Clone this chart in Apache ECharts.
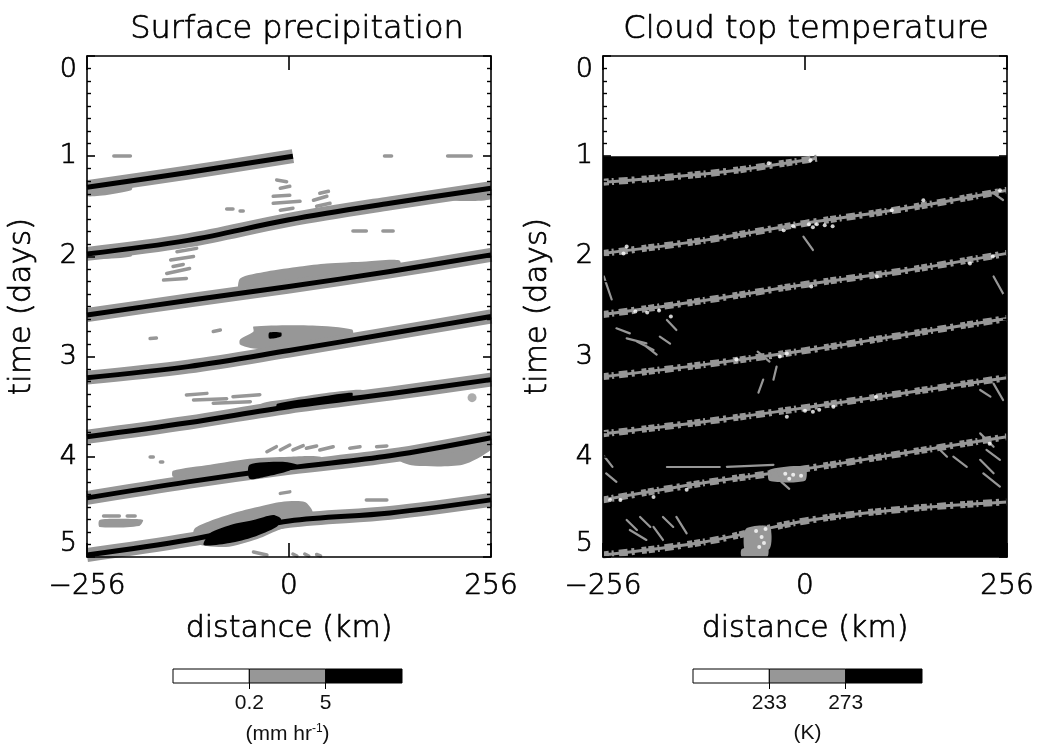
<!DOCTYPE html>
<html><head><meta charset="utf-8">
<script src="https://cdn.jsdelivr.net/npm/echarts@6/dist/echarts.min.js"></script>
<style>html,body{margin:0;padding:0;background:#fff}#c{width:1038px;height:748px}</style>
</head><body><div id="c"></div>
<script>
// ---------------- data ----------------
const titles = ['Surface precipitation', 'Cloud top temperature'];
const distanceRange = [-256, 256];
const timeRange = [0, 5];

// precipitation: tracks of the propagating rain lines [distance km, time days]
const precipTracks = [
  [[-256,1.31],[-130,1.165],[5,1.0]],
  [[-256,1.975],[-128,1.84],[0,1.635],[128,1.47],[256,1.32]],
  [[-256,2.585],[-128,2.44],[0,2.30],[128,2.15],[256,1.985]],
  [[-256,3.21],[-128,3.10],[0,2.94],[128,2.77],[256,2.60]],
  [[-256,3.80],[-128,3.66],[0,3.50],[128,3.37],[256,3.23]],
  [[-256,4.41],[-128,4.25],[0,4.11],[128,3.99],[256,3.81]],
  [[-256,4.98],[-128,4.83],[0,4.64],[128,4.56],[256,4.43]]
];
const precipGrayPatches = [
  [[-62,2.22],[-28,2.15],[14,2.10],[48,2.07],[98,2.05],[140,2.04],[140,2.14],[48,2.25],[-62,2.37]],
  [[-62,2.83],[-45,2.75],[-45,2.70],[30,2.69],[80,2.73],[80,2.80],[0,2.93],[-45,2.92],[-62,2.88]],
  [[-35,3.47],[0,3.42],[40,3.37],[90,3.33],[110,3.37],[60,3.45],[0,3.55],[-35,3.55]],
  [[-147,4.14],[-100,4.08],[-50,4.02],[0,4.0],[40,4.0],[40,4.08],[0,4.16],[-50,4.22],[-100,4.25],[-147,4.20]],
  [[140,3.95],[200,3.92],[256,3.84],[256,3.93],[220,4.08],[160,4.09],[140,4.04]],
  [[-240,4.63],[-200,4.62],[-185,4.63],[-190,4.69],[-240,4.70]],
  [[-120,4.72],[-100,4.64],[-70,4.56],[-40,4.50],[-10,4.45],[20,4.45],[30,4.55],[20,4.66],[-10,4.72],[-40,4.82],[-80,4.90],[-120,4.86]],
  [[-256,1.30],[-200,1.26],[-200,1.34],[-256,1.40]],
  [[180,1.38],[256,1.31],[256,1.43],[200,1.44]],
  [[-256,1.96],[-200,1.92],[-200,2.0],[-256,2.02]]
];
const precipBlackPatches = [
  [[-50,4.08],[-10,4.05],[10,4.08],[0,4.14],[-30,4.2],[-50,4.22]],
  [[-100,4.76],[-70,4.67],[-45,4.63],[-20,4.58],[-10,4.62],[-16,4.70],[-45,4.80],[-75,4.86],[-108,4.88]],
  [[-15,3.47],[40,3.40],[80,3.36],[80,3.40],[40,3.45],[-15,3.52]],
  [[-25,2.76],[-10,2.76],[-10,2.80],[-25,2.82]]
];
const precipGrayDashes = [
  [[-15.6,1.238],[-3,1.255]], [[-11,1.32],[1,1.30]], [[-20,1.40],[1,1.39]], [[-20,1.47],[14,1.45]],
  [[-11,1.54],[5,1.52]], [[31,1.44],[48,1.40]], [[35,1.50],[52,1.47]], [[39,1.37],[50,1.35]],
  [[-79,1.52],[-71,1.52]], [[-62,1.54],[-58,1.54]], [[81,1.74],[98,1.74]], [[119,1.74],[132,1.74]],
  [[-147,1.886],[-130,1.87]], [[-142,1.953],[-117,1.92]], [[-150,2.036],[-121,2.0]],
  [[-155,2.17],[-126,2.12]], [[-159,2.236],[-130,2.22]], [[-147,2.10],[-134,2.08]],
  [[-96,2.75],[-87,2.735]], [[-176,2.82],[-168,2.815]],
  [[-130,3.383],[-104,3.367]], [[-121,3.433],[-79,3.42]], [[-96,3.466],[-49,3.45]], [[-71,3.40],[-37,3.38]],
  [[-28,3.949],[-16,3.899]], [[-11,3.932],[1,3.882]], [[5,3.932],[18,3.889]], [[22,3.915],[35,3.892]],
  [[39,3.932],[56,3.899]], [[77,3.915],[90,3.899]], [[111,3.899],[124,3.892]],
  [[-176,4.0],[-172,4.0]], [[-163,4.05],[-160,4.05]], [[-11,4.365],[1,4.35]],
  [[-235,4.59],[-215,4.59]], [[-205,4.585],[-195,4.585]], [[98,4.43],[124,4.43]],
  [[-45,4.95],[-28,4.98]], [[5,4.97],[10,4.99]], [[20,4.97],[25,4.99]], [[35,4.975],[40,4.99]],
  [[-222,1.0],[-201,1.0]], [[121,1.0],[130,1.0]], [[201,1.0],[231,1.0]]
];
const precipGrayDots = [[232,3.41]];

// cloud top temperature
const cloudStart = 1.0;   // cloud data begins at day 1
const cloudTracks = [
  [[-256,1.26],[-108,1.16],[15,1.02]],
  [[-256,1.97],[-128,1.84],[0,1.67],[128,1.52],[256,1.34]],
  [[-256,2.58],[-128,2.44],[0,2.28],[128,2.14],[256,1.97]],
  [[-256,3.20],[-128,3.08],[0,2.94],[128,2.78],[256,2.62]],
  [[-256,3.77],[-128,3.65],[0,3.51],[128,3.36],[256,3.21]],
  [[-256,4.43],[-128,4.26],[0,4.12],[128,3.96],[256,3.80]],
  [[-256,4.98],[-128,4.85],[0,4.64],[128,4.52],[256,4.45]]
];
const cloudGrayDashes = [
  [[-239,2.718],[-222,2.768]], [[-226,2.818],[-201,2.868]], [[-213,2.85],[-192,2.934]], [[-201,2.90],[-188,2.98]],
  [[-184,2.80],[-171,2.87]], [[-175,2.635],[-163,2.735]],
  [[-36,3.10],[-40,3.23]], [[-53,3.23],[-59,3.36]],
  [[-254,3.999],[-244,4.1]], [[-252,4.165],[-239,4.25]],
  [[-175,4.10],[-108,4.10]], [[-99,4.10],[-40,4.08]],
  [[-226,4.63],[-213,4.73]], [[-222,4.73],[-201,4.83]], [[-209,4.60],[-196,4.70]], [[-192,4.70],[-180,4.83]],
  [[-180,4.60],[-167,4.70]], [[-163,4.60],[-150,4.764]],
  [[222,3.766],[239,3.90]], [[230,3.932],[247,4.03]], [[222,4.03],[239,4.165]], [[226,4.165],[247,4.298]],
  [[188,3.999],[205,4.10]], [[167,3.90],[180,3.999]], [[239,3.27],[251,3.433]], [[222,3.333],[235,3.40]],
  [[239,1.37],[251,1.437]], [[239,2.2],[251,2.37]], [[-2,1.803],[10,1.936]], [[-255,2.2],[-245,2.43]],
  [[-30,4.25],[-20,4.32]], [[-60,2.95],[-45,3.05]]
];
const cloudGrayPatches = [
  [[-80,4.92],[-48,4.88],[-48,5.0],[-80,5.0]],
  [[-45,4.13],[0,4.10],[0,4.24],[-45,4.24]],
  [[-75,4.72],[-45,4.70],[-45,4.92],[-75,4.95]]
];
const cloudWhiteSpecks = [
  [5,1.68],[15,1.68],[25,1.69],[35,1.70],[10,1.71],[-27,1.74],[-15,1.70],[110,1.54],[150,1.44],[247,1.34],
  [-230,1.97],[-226,1.90],[7,1.04],[-46,1.07],[91,2.2],[209,2.07],[238,2.0],[8,2.3],
  [-215,2.55],[-200,2.56],[-185,2.54],[-170,2.6],[-23,2.97],[-32,3.0],[-87,3.03],
  [0,3.54],[10,3.55],[18,3.53],[-23,3.6],[36,3.5],[90,3.4],
  [-25,4.17],[-15,4.18],[-5,4.19],[-20,4.22],[-192,4.4],[-234,4.43],[-247,4.43],[-150,4.33],
  [-62,4.74],[-55,4.8],[-52,4.86],[-58,4.9],[-50,4.72],[234,3.87]
];

// colour bars
const precipBarLabels = ['0.2', '5'];
const cloudBarLabels = ['233', '273'];
const barCells = [[0,1,0],[1,2,1],[2,3,2]];
const GRAY = '#979797';
const barColors = ['#ffffff', GRAY, '#000000'];

// ---------------- chart ----------------
const FONT = 'DejaVu Sans';
const chart = echarts.init(document.getElementById('c'), null, {renderer:'canvas'});

function trackSeries(tracks, color, width, xi, yi, z, type, offset) {
  return tracks.map(tr => ({
    type:'line', xAxisIndex:xi, yAxisIndex:yi, data:tr, showSymbol:false, symbol:'none', z, smooth:0.35,
    lineStyle:{color, width, type:type || 'solid', dashOffset:offset || 0, cap:'butt', join:'round'},
    silent:true, animation:false, clip:true
  }));
}
function polySeries(polys, color, xi, yi, z) {
  return {type:'custom', xAxisIndex:xi, yAxisIndex:yi, z, clip:true, silent:true, animation:false,
    data: polys.map(p => p[0]),
    renderItem:(params, api) => ({type:'polygon',
      shape:{points: polys[params.dataIndex].map(pt => api.coord(pt)), smooth:0.25},
      style:{fill:color}})
  };
}
function dashSeries(segs, color, width, xi, yi, z) {
  return {type:'lines', coordinateSystem:'cartesian2d', xAxisIndex:xi, yAxisIndex:yi, z, silent:true,
    animation:false, clip:true, data: segs.map(s => ({coords:s})),
    lineStyle:{color, width, opacity:1, cap:'round', curveness:0}};
}
function dotSeries(pts, color, size, xi, yi, z) {
  return {type:'scatter', xAxisIndex:xi, yAxisIndex:yi, z, data:pts, symbol:'circle', symbolSize:size,
    itemStyle:{color}, silent:true, animation:false, clip:true};
}
function barSeries(xi, yi) {
  return {type:'custom', xAxisIndex:xi, yAxisIndex:yi, silent:true, animation:false, data:barCells,
    renderItem:(params, api) => {
      const a = api.coord([api.value(0), 1]), b = api.coord([api.value(1), 0]);
      return {type:'rect', shape:{x:a[0], y:a[1], width:b[0]-a[0], height:b[1]-a[1]},
        style:{fill:barColors[api.value(2)], stroke:'#000', lineWidth:1}};
    }};
}

const axisLineStyle = {color:'#000', width:1.6};
const bigText = {fontFamily:FONT, fontSize:30, fontWeight:300, color:'#000',
  textBorderColor:'#000', textBorderWidth:0.7};
const minus = v => v < 0 ? '\u2212' + Math.abs(v) : String(v);

function xAxes(gi) {
  return [
    {gridIndex:gi, type:'value', position:'bottom', min:distanceRange[0], max:distanceRange[1], interval:256,
     name:'distance (km)', nameLocation:'middle', nameGap:57, nameTextStyle:bigText,
     axisLine:{show:true, onZero:false, lineStyle:axisLineStyle},
     axisTick:{show:true, inside:true, length:14, lineStyle:axisLineStyle},
     axisLabel:{show:true, margin:16, formatter:minus, ...bigText, fontSize:28},
     splitLine:{show:false}, z:10},
    {gridIndex:gi, type:'value', position:'top', min:distanceRange[0], max:distanceRange[1], interval:256,
     axisLine:{show:true, onZero:false, lineStyle:axisLineStyle},
     axisTick:{show:true, inside:true, length:14, lineStyle:axisLineStyle},
     axisLabel:{show:false}, splitLine:{show:false}, z:10}
  ];
}
function yAxes(gi) {
  return [
    {gridIndex:gi, type:'value', position:'left', inverse:true, min:timeRange[0], max:timeRange[1], interval:1,
     name:'time (days)', nameLocation:'middle', nameGap:50, nameRotate:90, nameTextStyle:{...bigText, fontSize:31},
     axisLine:{show:true, onZero:false, lineStyle:axisLineStyle},
     axisTick:{show:true, inside:true, length:8, lineStyle:axisLineStyle},
     minorTick:{show:true, splitNumber:8, length:4, lineStyle:{color:'#000', width:1.4}},
     axisLabel:{show:true, margin:10, ...bigText, fontSize:27,
       verticalAlignMinLabel:'top', verticalAlignMaxLabel:'bottom'},
     splitLine:{show:false}, minorSplitLine:{show:false}, z:10},
    {gridIndex:gi, type:'value', position:'right', inverse:true, min:timeRange[0], max:timeRange[1], interval:1,
     axisLine:{show:true, onZero:false, lineStyle:axisLineStyle},
     axisTick:{show:true, inside:true, length:8, lineStyle:axisLineStyle},
     minorTick:{show:true, splitNumber:8, length:4, lineStyle:{color:'#000', width:1.4}},
     axisLabel:{show:false}, splitLine:{show:false}, minorSplitLine:{show:false}, z:10}
  ];
}
const barText = {fontFamily:'Liberation Sans', fontSize:21, color:'#111'};
function barXAxis(gi, labels, unitRich) {
  return {gridIndex:gi, type:'value', min:0, max:3, interval:1,
    axisLine:{show:false},
    axisTick:{show:true, customValues:[1,2], length:6, lineStyle:{color:'#000', width:1}},
    axisLabel:{show:true, customValues:[1,2], margin:10, formatter:v => labels[v-1] || '', ...barText},
    splitLine:{show:false},
    name:unitRich, nameLocation:'middle', nameGap:40,
    nameTextStyle:{...barText, rich:{a:{...barText}, s:{fontFamily:'Liberation Sans', fontSize:12, color:'#111', verticalAlign:'top', padding:[0,0,10,0]}}}
  };
}
function barYAxis(gi) {
  return {gridIndex:gi, type:'value', min:0, max:1, show:false};
}

const series = [
  // precipitation panel
  polySeries(precipGrayPatches, GRAY, 0, 0, 2),
  ...trackSeries(precipTracks, GRAY, 14, 0, 0, 3),
  dashSeries(precipGrayDashes, GRAY, 3.5, 0, 0, 3),
  dotSeries(precipGrayDots, GRAY, 9, 0, 0, 3),
  polySeries(precipBlackPatches, '#000', 0, 0, 4),
  ...trackSeries(precipTracks, '#000', 5, 0, 0, 5),
  // cloud panel
  {type:'custom', xAxisIndex:2, yAxisIndex:2, z:1, silent:true, animation:false, clip:true,
   data:[[distanceRange[0], cloudStart, distanceRange[1], timeRange[1]]],
   renderItem:(p, api) => {
     const a = api.coord([api.value(0), api.value(1)]), b = api.coord([api.value(2), api.value(3)]);
     return {type:'rect', shape:{x:a[0], y:a[1], width:b[0]-a[0], height:b[1]-a[1]}, style:{fill:'#000'}};
   }},
  polySeries(cloudGrayPatches, GRAY, 2, 2, 2),
  ...trackSeries(cloudTracks, GRAY, 3, 2, 2, 3),
  ...trackSeries(cloudTracks, GRAY, 7, 2, 2, 3, [6, 3, 2, 5, 9, 4, 3, 7, 5, 2], 0),
  dashSeries(cloudGrayDashes, GRAY, 2.2, 2, 2, 3),
  dotSeries(cloudWhiteSpecks, '#fff', 4, 2, 2, 4),
  // colour bars
  barSeries(4, 4),
  barSeries(5, 5)
];

chart.setOption({
  animation:false,
  backgroundColor:'#fff',
  title:[
    {text:titles[0], left:292, top:9, textAlign:'center', textStyle:{...bigText, fontSize:32}},
    {text:titles[1], left:801, top:9, textAlign:'center', textStyle:{...bigText, fontSize:32}}
  ],
  grid:[
    {left:87, top:56, width:404, height:501},
    {left:603, top:56, width:404, height:501},
    {left:173, top:669, width:229, height:14},
    {left:693, top:669, width:229, height:14}
  ],
  xAxis:[...xAxes(0), ...xAxes(1),
    barXAxis(2, precipBarLabels, '{a|(mm hr}{s|-1}{a|)}'),
    barXAxis(3, cloudBarLabels, '{a|(K)}')],
  yAxis:[...yAxes(0), ...yAxes(1), barYAxis(2), barYAxis(3)],
  series
});
</script>
</body></html>
